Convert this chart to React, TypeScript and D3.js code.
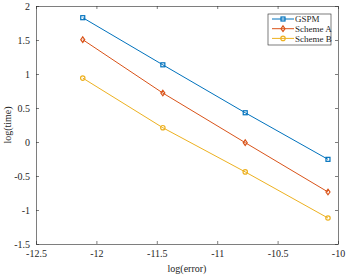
import {useEffect, useRef} from 'react';
import * as d3 from 'd3';

// log(error) for every scheme
const logError = [-12.113, -11.45, -10.768, -10.083];
const gspm = [1.828, 1.135, 0.43, -0.255];
const schemeA = [1.505, 0.72, -0.01, -0.735];
const schemeB = [0.94, 0.21, -0.44, -1.118];
const seriesNames = ['GSPM', 'Scheme A', 'Scheme B'];
const xTicks = [-12.5, -12, -11.5, -11, -10.5, -10];
const yTicks = [-1.5, -1, -0.5, 0, 0.5, 1, 1.5, 2];

const W = 346;
const H = 276;

const App = () => {
  const svgRef = useRef<SVGSVGElement>(null);

  useEffect(() => {
    const margin = {top: 6, right: 8, bottom: 32, left: 36};
    const innerWidth = W - margin.left - margin.right;
    const innerHeight = H - margin.top - margin.bottom;
    const font = '"Liberation Serif", "Times New Roman", serif';
    const axisColor = '#262626';
    const colors = ['#0072BD', '#D95319', '#EDB120'];
    const fmt = d => String(d); // plain hyphen, no trailing zeros

    const svg = d3.select(svgRef.current);
    svg.selectAll('*').remove();

    const x = d3.scaleLinear().domain([-12.5, -10]).range([0, innerWidth]);
    const y = d3.scaleLinear().domain([-1.5, 2]).range([innerHeight, 0]);

    const g = svg.append('g').attr('transform', `translate(${margin.left},${margin.top})`);

    // axes, ticks pointing inward like matlab
    const styleAxis = (sel, withText) => {
      sel.select('.domain').attr('stroke', axisColor).attr('stroke-width', 0.6);
      sel.selectAll('.tick line').attr('stroke', axisColor).attr('stroke-width', 0.6);
      sel.selectAll('.tick text')
        .style('font-family', font)
        .style('font-size', '10px')
        .attr('fill', axisColor)
        .style('display', withText ? null : 'none');
    };

    g.append('g')
      .attr('transform', `translate(0,${innerHeight})`)
      .call(d3.axisBottom(x).tickValues(xTicks).tickFormat(fmt).tickSize(-3).tickSizeOuter(0).tickPadding(6))
      .call(s => styleAxis(s, true));

    g.append('g')
      .call(d3.axisLeft(y).tickValues(yTicks).tickFormat(fmt).tickSize(-3).tickSizeOuter(0).tickPadding(6))
      .call(s => styleAxis(s, true));

    g.append('g')
      .call(d3.axisTop(x).tickValues(xTicks).tickSize(-3).tickSizeOuter(0))
      .call(s => styleAxis(s, false));

    g.append('g')
      .attr('transform', `translate(${innerWidth},0)`)
      .call(d3.axisRight(y).tickValues(yTicks).tickSize(-3).tickSizeOuter(0))
      .call(s => styleAxis(s, false));

    const allSeries = [gspm, schemeA, schemeB];
    const line = d3.line<number>().x((d, i) => x(logError[i])).y(d => y(d));

    const drawMarker = (sel, k, cx, cy) => {
      const c = colors[k];
      if (k === 0) {
        sel.append('rect')
          .attr('x', cx - 2).attr('y', cy - 2)
          .attr('width', 4).attr('height', 4)
          .attr('fill', 'none').attr('stroke', c).attr('stroke-width', 1.2);
      } else if (k === 1) {
        sel.append('path')
          .attr('d', `M${cx},${cy - 2.8}L${cx + 2},${cy}L${cx},${cy + 2.8}L${cx - 2},${cy}Z`)
          .attr('fill', 'none').attr('stroke', c).attr('stroke-width', 1.2);
      } else {
        sel.append('circle')
          .attr('cx', cx).attr('cy', cy).attr('r', 2.2)
          .attr('fill', 'none').attr('stroke', c).attr('stroke-width', 1.2);
      }
    };

    allSeries.forEach((vals, k) => {
      g.append('path')
        .datum(vals)
        .attr('fill', 'none')
        .attr('stroke', colors[k])
        .attr('stroke-width', 1)
        .attr('d', line);
      vals.forEach((v, i) => drawMarker(g, k, x(logError[i]), y(v)));
    });

    // legend
    const lg = g.append('g').attr('transform', `translate(${innerWidth - 70},${8})`);
    lg.append('rect')
      .attr('x', 0).attr('y', 0).attr('width', 63).attr('height', 31)
      .attr('fill', 'white').attr('stroke', axisColor).attr('stroke-width', 0.6);
    seriesNames.forEach((name, k) => {
      const ry = 5 + k * 9.7;
      lg.append('line')
        .attr('x1', 4).attr('x2', 26).attr('y1', ry).attr('y2', ry)
        .attr('stroke', colors[k]).attr('stroke-width', 1);
      drawMarker(lg, k, 15, ry);
      lg.append('text')
        .attr('x', 27).attr('y', ry + 3.3)
        .style('font-family', font)
        .style('font-size', '9px')
        .attr('fill', axisColor)
        .text(name);
    });

    // axis labels
    svg.append('text')
      .attr('x', margin.left + innerWidth / 2)
      .attr('y', H - 4)
      .attr('text-anchor', 'middle')
      .style('font-family', font)
      .style('font-size', '10px')
      .attr('fill', axisColor)
      .text('log(error)');

    svg.append('text')
      .attr('transform', `translate(11,${margin.top + innerHeight / 2}) rotate(-90)`)
      .attr('text-anchor', 'middle')
      .style('font-family', font)
      .style('font-size', '10px')
      .attr('fill', axisColor)
      .text('log(time)');
  }, []);

  return (
    <svg
      ref={svgRef}
      width={W}
      height={H}
      style={{position: 'absolute', left: 0, top: 0, background: 'white'}}
    />
  );
};

export default App;
